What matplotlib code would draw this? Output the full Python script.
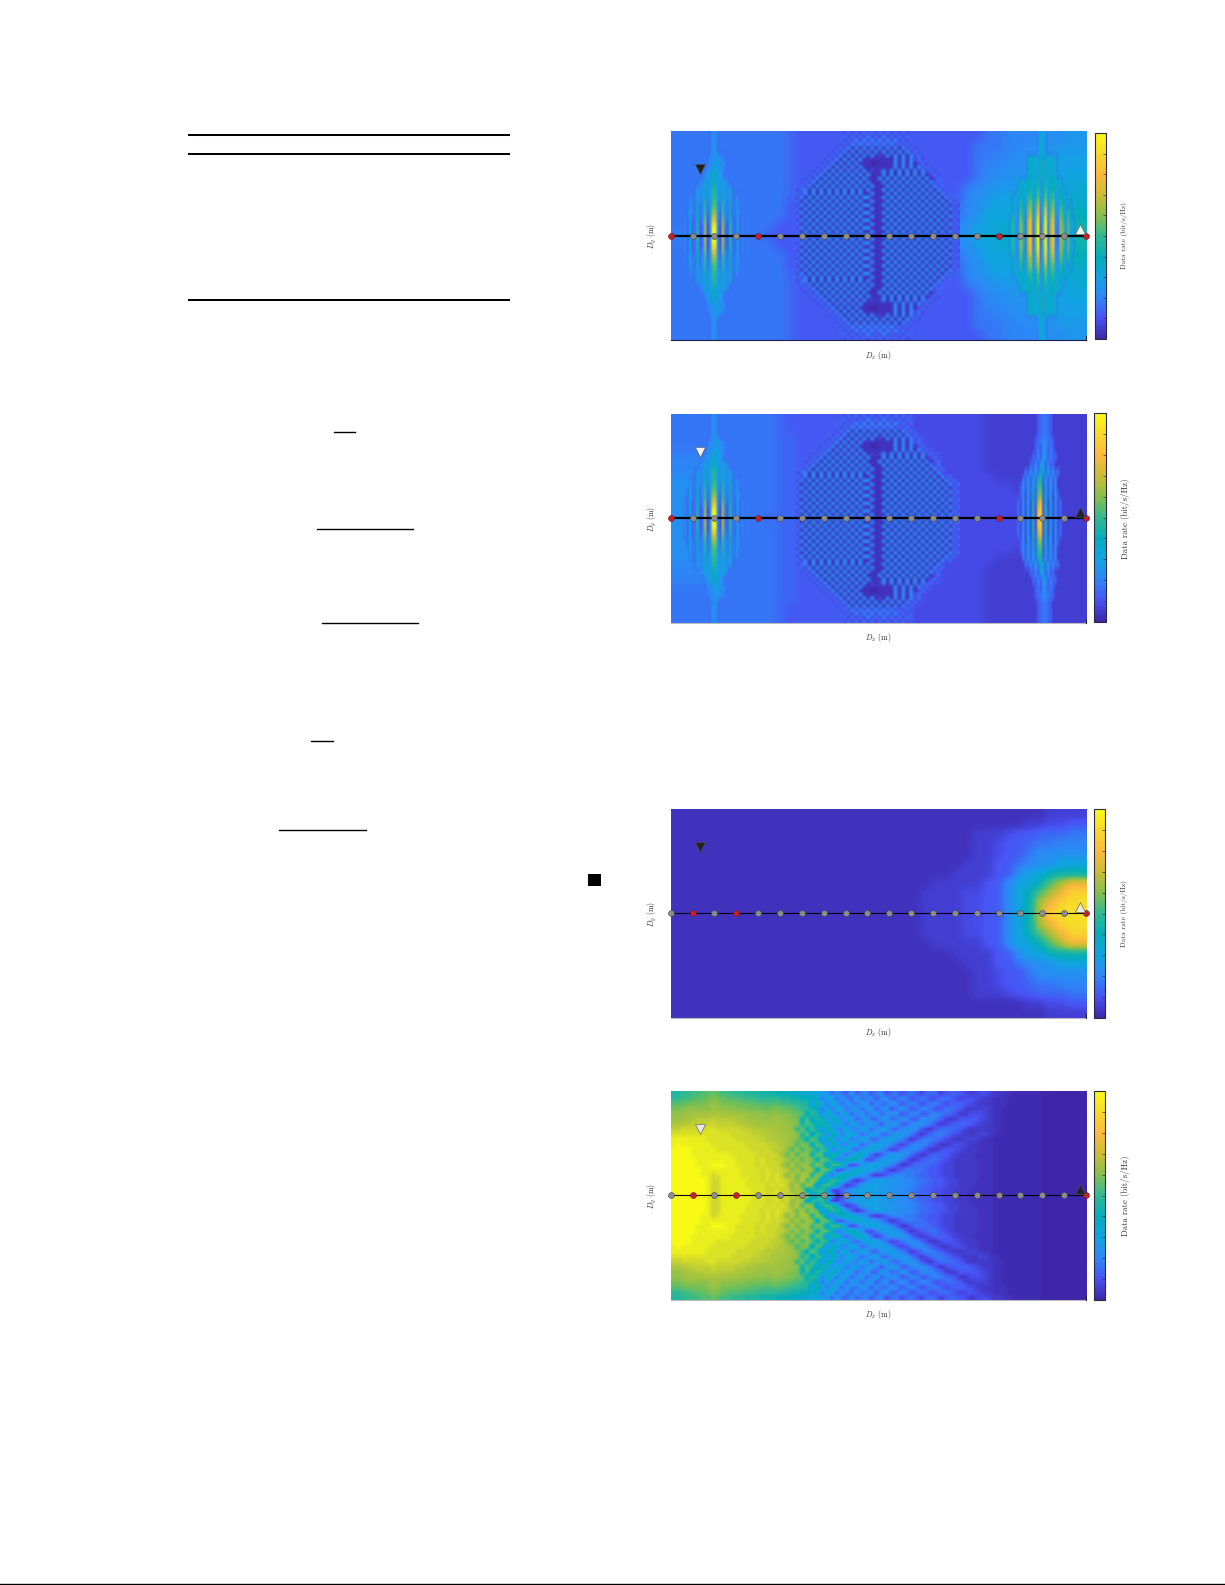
import matplotlib
matplotlib.use('Agg')
import matplotlib.pyplot as plt
import numpy as np
from matplotlib.colors import LinearSegmentedColormap, Normalize
from matplotlib.lines import Line2D
from matplotlib.patches import Rectangle
from matplotlib.cm import ScalarMappable

plt.rcParams['mathtext.fontset'] = 'cm'
plt.rcParams['axes.unicode_minus'] = False

W, H = 1225, 1585

# rate maps: upper half of each panel (top row -> centre row), one base-36 digit
# per cell, 0 = bottom of the colour bar, z = top, . = nothing drawn. read by eye.
rate_a = [
    "6666666666 6544444444 4444444444 6677778899",
    "6666666666 6544444444 4444444446 6677888999",
    "6666666666 6544444444 4444444446 6778889aaa",
    "6666666666 6544444444 4444444446 7788899aaa",
    "6666666666 6544444444 4444444446 7889999abb",
    "6666666666 6544444444 4444444467 899aaaabbc",
    "6666666666 6544444444 4444444478 9aabbbbccc",
    "6666666666 6444444444 4444444578 abbbbbccdd",
    "6688866666 6444444444 4444445679 bbbcccddee",
    "6688866666 4444444444 444445678a bcccddddef",
    "6888866664 4444444444 444456789b ccddddddfg",
]
rate_b = [
    "6666666666 5444444444 3333333333 2222222222",
    "6666666666 5444444444 3333333333 2222222222",
    "6666666666 5544444444 3333333333 2222222222",
    "6666666666 5544444444 3333333333 2222222222",
    "7777666666 5544444444 3333333333 2222222222",
    "7777666666 5544444444 4444433333 2222222222",
    "8888666666 5544444444 4444433333 3222222222",
    "8888666666 5544444444 4444433333 3332222222",
    "8888866666 5544444444 4444433333 3333222222",
    "8888866666 5544444444 4444433333 3333322222",
    "8888866665 5544444444 4444433333 3333322222",
]
# fringes round the mid-point of the array, same look in both upper panels
ripple = [
    ".......... ..35353535 3535353534 .......... ..",
    ".......... ..53535373 5373535354 .......... ..",
    ".......... .535373737 3737373535 .......... ..",
    ".......... .353737373 7373735353 .......... ..",
    ".......... 3537171717 1717171735 3......... ..",
    ".........3 5371717171 7171717173 53........ ..",
    "........35 3717171717 1217171717 353....... ..",
    ".......353 7171717111 1111171717 353....... ..",
    "......3537 1717171110 0111171717 1353...... ..",
    ".....35371 7171717111 1111171717 17353..... ..",
    "....353717 1717171712 1271717171 7173534... ..",
    "...3537181 8181817181 1181818181 8171353... ..",
    "..35371818 1818181811 1718181818 1817135... ..",
    ".353718181 8181818171 1181818181 8181735... ..",
    ".537181818 1818181817 1118181818 18181735.. ..",
    "3571818181 8181818171 1181818181 81817173.. ..",
    "5371818181 8181818117 1118181818 1818171735 ..",
    "3718181818 1818181871 1181818181 8181817173 5.",
    "5181818181 8181818117 1118181818 1818181717 35",
    "3718181818 1818181871 1181818181 8181818171 53",
    "5181818181 8181818117 1118181818 1818181717 35",
    "3718181818 1818181871 1181818181 8181818171 53",
    "5181818181 8181818117 1118181818 1818181717 35",
    "3718181818 1818181871 1181818181 8181818171 53",
    "5181818181 8181818117 1118181818 1818181717 35",
    "3718181818 1818181871 1181818181 8181818171 53",
    "5181818181 8181818117 1118181818 1818181717 35",
    "3718181818 1818181871 1181818181 8181818171 53",
]
band_mid = [
    "............6886............",
    "............6886............",
    "............6896............",
    "...........67899876.........",
    "...........788aa887.........",
    "..........7a8dd8a7..........",
    "........78c8adda8c87........",
    "......6b78d8agga8d87b6......",
    "....866c78e7ahha7e87c668....",
    "....a66d68g6aijb6g86d66a....",
    "...6a66e67h5alma5h76e66a6...",
    "..75a56f57k4aqra4k75f65a57..",
    "..75b56g46m39xy93m64g65b57..",
    "..75b56h46n38zz83n64h65b57..",
]
band_strong = [
    "............9bb9............",
    "............9bb9............",
    "............9cc9............",
    "........cdcbcd9dcbcd........",
    "........dcdbcf9fcbdc........",
    "........cdcbce9ecbdc........",
    ".....cdcdebcf9cfbdecdc......",
    "....cdcbefbdh9dhbefcbdc.....",
    "..dbaedaghaej9ejaghbaedb....",
    "..ea9ge8il9gn7gn9hka9gea.c..",
    "..fa8if7kn8hs6ht8jn98jg9gc..",
    ".cg98kg6mr7jx5ix7lr87lh8iac.",
    ".ch98lh6ns6kz4jy6ms76mj7jac.",
    ".ch98mh6nt6kz4kz6nt76nj7jac.",
]
band_weak = [
    "............456654..........",
    "............456654..........",
    "............456654..........",
    "...........45677654.........",
    "...........46488464.........",
    "..........5474994745........",
    ".........5484aa4845.........",
    ".......6485a5cd5a5846.......",
    "......7494b5fg4b4947........",
    ".....48494d5hi4d4948........",
    ".....483a4e4jl4e4a384.......",
    "....5383a3f4mr4f3a3835......",
    "....5383b3g3qu4g3b3835......",
    "....5383b3g3sw4g3b3835......",
]

rate_c = [
    "1111111111 1111111111 1111111111 1111112222",
    "1111111111 1111111111 1111111111 1111223344",
    "1111111111 1111111111 1111111112 2234455566",
    "1111111111 1111111111 1111111112 2344566777",
    "1111111111 1111111111 1111111112 2344688888",
    "1111111111 1111111111 1111111122 2446788bbb",
    "1111111111 1111111111 1111111222 2448bbffff",
    "1111111111 1111111111 1111122222 448bbfjnrr",
    "1111111111 1111111111 1111222233 448bfjnrvv",
    "1111111111 1111111111 1111222233 448bfnrvww",
    "1111111111 1111111111 1111222233 448bfnvwww",
]

rate_d = [
    "jjkkllmmnm llkkkjjjii ihhhggffee dc7c87b79a 69a5895797 4787467765 3455433221 1111100000 0000",
    "kkllmmnnpo nmmmlllkkk kkjjiihhgg 8ee7c97c89 b6ab77a957 9856887545 6543322211 1111100000 0000",
    "mmnnoooprq ooonnnmmml mmllkkjjci g8ed7c98cb 6b88ba68a9 5799756776 5433322211 1111100000 0000",
    "oopqqqqqsr qqqppooonn oonnmlkjig 8f8ed7cc7b c6ab68ba67 aa85688764 3444322111 1111100000 0000",
    "qqrrssstst ssssrrqqqp qqpponmgki agf8dd7bc7 ac7abb67aa 769a987533 5554322111 1111100000 0000",
    "rrsttuuuvu uuuttssrrq srrqpohlfj iagg9dd7ad 77cc78bb76 aaa9743466 6654322111 1111100000 0000",
    "ttuuvvvvwv vvvuuttsss ssrrqphmjf iiaff8dd8b da6acc76ab ba85346777 6543322111 1111100000 0000",
    "vvwwwwwxxw wwwwvvuuut tssrqjogli ahh9bfa9ec 7add87acba 7436888764 3333322111 1111100000 0000",
    "xxxxxxxxxx xxwwwwvvuu ttssrqinek jagg9dfc7a dd87bccb96 3589986543 3344321111 1111100000 0000",
    "yyyyyyyxxx xxxwwwwvvu uttsrolgnk ahh9ef8bed 77bddca735 8a98754334 4432211111 1111100000 0000",
    "yzyyyyyyxx xxxxxwwwwv vutsqkpofm kagh9afd79 dddca7469a a975334554 3322211111 1111100000 0000",
    "zzzzyyyyyx xxxxxxwwww vuuqlrkpmg lk9bgg97ce edb8458aaa 8533566543 3322211111 1111100000 0000",
    "zzzzyyyyyy yyxxxxxwww wvsmskqphn lbijb7cggd 846acccb85 3467765433 3222211111 1111100000 0000",
    "zzzzzyyyyy yyyxxxxwxw wvvsnslqog nmh8ahigc6 59cddca634 6788654333 3322211111 1111100000 0000",
    "zzzzzyyyzz zyyxxxxwxw wwtnumsrjp mdkmj946bd eedca73368 8876544333 3322211111 1111100000 0000",
    "zzzzzzyyyy yyyyxxxxwx wwvvotmsqe nnh55begfe dca6347998 8766544333 3322211111 1111100000 0000",
    "zzzzzzyywx yyyyxxxxwx wxvpuntshp mc8ehhgeca 53479aa998 7766544333 3322211111 1111100000 0000",
    "zzzzzzzyww yyyyyxxxwx wxwvtnukqn agkjgc7359 cddccbbaa9 8876654433 3322211111 1111100000 0000",
    "zzzzzzzyww yyyyyxxxxw xwxvqukrob jljf8358cd ddcccbbaa9 8776654433 3222211111 1111100000 0000",
    "zzzzzzzyww yyyyyyxxxw wxvwqtrcik kf437acddd ddccbbaa98 7765544333 2222211111 1111100000 0000",
    "zzzzzzzyww yyyyyyxxxw xwxvwpusbg kkd258acdd ddccbbaa98 7765544333 2222211111 1111100000 0000",
]

node_red_a = [0, 4, 15, 19]
node_red_c = [1, 3, 19]
n_nodes = 20
rx_x, rx_y = 1.36, 3.05    # down triangle
tx_x, tx_y = 18.72, 0.30   # up triangle

table_rules = [(189, 509, 134.6), (189, 509, 154.1), (189, 509, 299.8)]
frac_rules = [(334, 355, 432), (317, 413, 528.5), (322, 418, 623.4), (311, 333, 741.4), (279, 366, 829.6)]

parula = LinearSegmentedColormap.from_list('parula', [
    (0.2422, 0.1504, 0.6603), (0.2810, 0.3228, 0.9579), (0.1786, 0.5289, 0.9682),
    (0.0689, 0.6396, 0.8900), (0.0153, 0.6800, 0.7300), (0.1900, 0.7300, 0.5700),
    (0.5300, 0.7500, 0.3000), (0.8000, 0.7400, 0.2000), (0.9900, 0.7300, 0.2400),
    (0.9700, 0.8500, 0.1700), (0.9769, 0.9839, 0.0805)])
# transparent cells stay blue so the edge of an inset does not go dark
parula_inset = parula.with_extremes(bad=(0.24, 0.40, 0.95, 0.0))
# fringes finer than a cell average out to yellow-green, not orange
parula_mean = LinearSegmentedColormap.from_list('parula_mean', [
    (0.2422, 0.1504, 0.6603), (0.2810, 0.3228, 0.9579), (0.1786, 0.5289, 0.9682),
    (0.0689, 0.6396, 0.8900), (0.0153, 0.6800, 0.7300), (0.1900, 0.7300, 0.5700),
    (0.4300, 0.7500, 0.3500), (0.5800, 0.7600, 0.2800), (0.6800, 0.7800, 0.2300),
    (0.8200, 0.8500, 0.1700), (0.9769, 0.9839, 0.0805)])
norm = Normalize(0, 1)


def levels(rows):
    grid = np.array([[-1 if c == '.' else int(c, 36) for c in r.replace(' ', '')] for r in rows]) / 35.0
    grid = np.vstack([grid, grid[-2::-1]])
    return np.ma.masked_less(grid, 0)


def px_axes(fig, x0, y0, x1, y1):
    return fig.add_axes([x0 / W, 1 - y1 / H, (x1 - x0) / W, (y1 - y0) / H])


def panel(fig, y0, y1, cb, rows, reds, thick, rx_col, tx_col, cb_size, bottom='#bbbbbb',
          bands=(), smooth='gaussian', cmap=parula, gamma=1.0):
    ax = px_axes(fig, 670.7, y0, 1086, y1)
    ym = (y1 - y0) / 2 / (415.3 / (n_nodes - 1))
    ax.imshow(levels(rows) ** gamma, extent=(0, n_nodes - 1, -ym, ym), aspect='auto', cmap=cmap,
              norm=norm, interpolation=smooth, zorder=1)
    # finer cells over the fringe bands
    for rows_b, bx0, bx1 in bands:
        ax.imshow(levels(rows_b), extent=(bx0, bx1, -ym, ym), aspect='auto', cmap=parula_inset,
                  norm=norm, interpolation='bilinear', interpolation_stage='rgba', zorder=2)
    ax.set_xlim(0, n_nodes - 1)
    ax.set_ylim(-ym, ym)
    ax.set_xticks([])
    ax.set_yticks([])
    for s in ax.spines.values():
        s.set_visible(False)
    ax.spines['bottom'].set_visible(True)
    ax.spines['bottom'].set_color(bottom)
    ax.spines['bottom'].set_linewidth(0.8)
    ax.plot([1, 1], [0, 0.02], transform=ax.transAxes, color='#222222', lw=0.8, clip_on=False, zorder=6)

    nodes = np.arange(n_nodes)
    ax.plot(nodes, np.zeros(n_nodes), color='black', lw=thick, zorder=3, clip_on=False)
    grey = [n for n in nodes if n not in reds]
    ax.plot(grey, np.zeros(len(grey)), 'o', ms=4.3, mfc='#8c8c8c', mec='#4a4a4a', mew=0.4, zorder=4, clip_on=False)
    ax.plot(reds, np.zeros(len(reds)), 'o', ms=4.3, mfc='#c4202c', mec='#6a1a1a', mew=0.4, zorder=4, clip_on=False)
    ax.plot([rx_x], [rx_y], 'v', ms=7.2, mfc=rx_col, mec='#555555', mew=0.4, zorder=5)
    ax.plot([tx_x], [tx_y], '^', ms=7.2, mfc=tx_col, mec='#555555', mew=0.4, zorder=5)

    fig.text(878 / W, 1 - (y1 + 15) / H, r'$D_x$ (m)', ha='center', va='center',
             family='cmr10', fontsize=5.6, color='#333333')
    fig.text(652 / W, 1 - ((y0 + y1) / 2 + 0.5) / H, r'$D_y$ (m)', ha='center', va='center',
             rotation=90, family='cmr10', fontsize=5.6, color='#333333')

    cax = px_axes(fig, cb[0], cb[1], cb[2], cb[3])
    cbar = fig.colorbar(ScalarMappable(norm=norm, cmap=parula), cax=cax)
    cbar.set_ticks(np.linspace(0, 1, 11))
    cax.tick_params(direction='in', length=2, width=0.5, color='#333333', right=True,
                    labelright=False, labelleft=False)
    cbar.outline.set_linewidth(0.8)
    cbar.outline.set_edgecolor('#2a2a40')
    fig.text(1125 / W, 1 - (y0 + y1) / 2 / H, 'Data rate (bit/s/Hz)', rotation=90, ha='center',
             va='center', family='cmr10', fontsize=cb_size, color='#333333')
    return ax


fig = plt.figure(figsize=(W / 100, H / 100), dpi=100, facecolor='white')

panel(fig, 131, 340, (1095, 133, 1106, 339), rate_a, node_red_a, 1.6, '#222222', '#f2f2f2', 5.3,
      bottom='#20204a',
      bands=[(band_mid, 0.4, 3.6), (ripple, 5.75, 13.25), (band_strong, 15.4, 18.6)])
panel(fig, 414, 622.7, (1094, 413, 1106, 622), rate_b, node_red_a, 1.6, '#f2f2f2', '#222233', 6.4,
      bands=[(band_mid, 0.4, 3.6), (ripple, 5.75, 13.25), (band_weak, 15.4, 18.6)])
panel(fig, 809, 1017.7, (1094, 809, 1105, 1018), rate_c, node_red_c, 0.8, '#222222', '#e8e8e0', 5.3)
panel(fig, 1091, 1299.7, (1094, 1091, 1105, 1300), rate_d, node_red_c, 0.8, '#e8e8e8', '#222233', 6.4,
      smooth='bilinear', cmap=parula_mean, gamma=1.25)

# left column: what is left of the table and fraction bars on the page
for x0, x1, y in table_rules:
    fig.add_artist(Line2D([x0 / W, x1 / W], [1 - y / H, 1 - y / H], color='black', lw=1.45))
for x0, x1, y in frac_rules:
    fig.add_artist(Line2D([x0 / W, x1 / W], [1 - y / H, 1 - y / H], color='black', lw=1.0))
fig.add_artist(Rectangle((588 / W, 1 - 885.5 / H), 13 / W, 11.8 / H, transform=fig.transFigure,
                         facecolor='black', edgecolor='none'))
fig.add_artist(Line2D([0, 1], [1 - 1584 / H, 1 - 1584 / H], color='black', lw=1.0))

fig.savefig('out.png', dpi=100, facecolor='white')
